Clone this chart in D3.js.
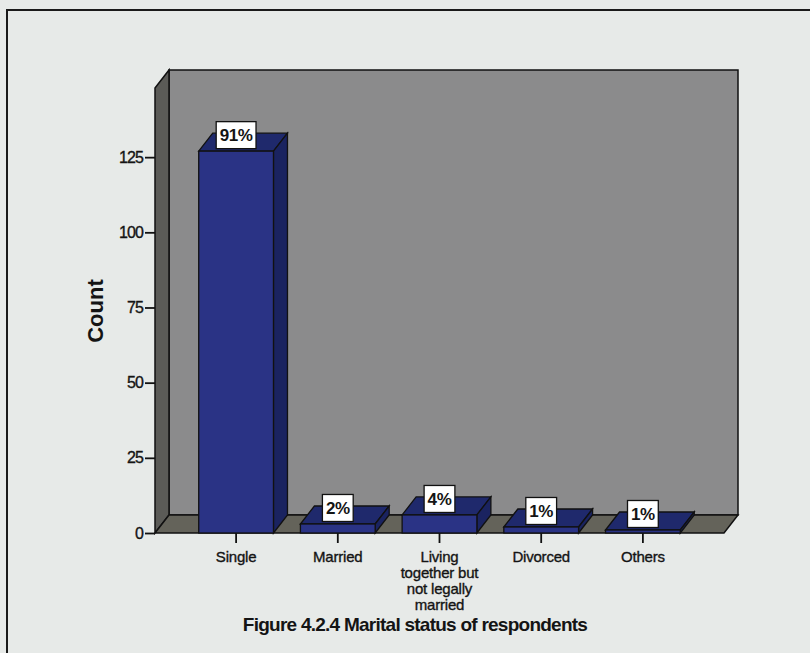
<!DOCTYPE html>
<html>
<head>
<meta charset="utf-8">
<script src="https://cdn.jsdelivr.net/npm/d3@7"></script>
<style>
  html, body { margin: 0; padding: 0; background: #e7eae8; }
  svg { display: block; font-family: "Liberation Sans", Arial, sans-serif; }
</style>
</head>
<body>
<svg id="chart" width="810" height="653"></svg>
<script>
// Marital status of respondents (counts)
const categories = ["Single", "Married", "Living together but not legally married", "Divorced", "Others"];
const categoryLines = [["Single"], ["Married"], ["Living", "together but", "not legally", "married"], ["Divorced"], ["Others"]];
const counts = [127, 3, 6, 2, 1];
const yTicks = [0, 25, 50, 75, 100, 125];
const titleText = "Figure 4.2.4 Marital status of respondents";
const yTitle = "Count";

const total = d3.sum(counts);
const pctLabel = v => Math.round(v / total * 100) + "%";

const svg = d3.select("#chart");

// 3-D frame geometry
const left = 155, right = 724, bottom = 533, dx = 14, dy = 18;
const y = d3.scaleLinear().domain([0, 148]).range([bottom, 88]);
const x = d3.scaleBand().domain(categories).range([left, right])
  .paddingInner(0.265).paddingOuter(0.43);

const col = {
  bg: "#e7eae8", back: "#8b8b8c", side: "#5b5b57", floor: "#64635a",
  front: "#2a3385", top: "#1f296c", right: "#1a2360", stroke: "#111", ink: "#141414"
};

// outer frame
svg.append("rect").attr("x", 7).attr("y", 10).attr("width", 820).attr("height", 700)
  .attr("fill", col.bg).attr("stroke", "#1a1a1a").attr("stroke-width", 2);

const yTop = y.range()[1];
const g = svg.append("g");

// back wall
g.append("polygon")
  .attr("points", [[left + dx, yTop - dy], [right + dx, yTop - dy], [right + dx, bottom - dy], [left + dx, bottom - dy]].join(" "))
  .attr("fill", col.back).attr("stroke", col.stroke).attr("stroke-width", 1.5);
// left wall
g.append("polygon")
  .attr("points", [[left, yTop], [left + dx, yTop - dy], [left + dx, bottom - dy], [left, bottom]].join(" "))
  .attr("fill", col.side).attr("stroke", col.stroke).attr("stroke-width", 1.5);
// floor
g.append("polygon")
  .attr("points", [[left, bottom], [left + dx, bottom - dy], [right + dx, bottom - dy], [right, bottom]].join(" "))
  .attr("fill", col.floor).attr("stroke", col.stroke).attr("stroke-width", 1.5);

// bars
const bars = g.selectAll("g.bar").data(categories.map((c, i) => ({ c, v: counts[i] })))
  .join("g").attr("class", "bar");
bars.each(function (d) {
  const b = d3.select(this);
  const x0 = x(d.c), x1 = x(d.c) + x.bandwidth(), yt = y(d.v), yb = y(0);
  b.append("polygon")
    .attr("points", [[x0, yt], [x0 + dx, yt - dy], [x1 + dx, yt - dy], [x1, yt]].join(" "))
    .attr("fill", col.top).attr("stroke", col.stroke).attr("stroke-width", 1.3);
  b.append("polygon")
    .attr("points", [[x1, yt], [x1 + dx, yt - dy], [x1 + dx, yb - dy], [x1, yb]].join(" "))
    .attr("fill", col.right).attr("stroke", col.stroke).attr("stroke-width", 1.3);
  b.append("rect").attr("x", x0).attr("y", yt).attr("width", x1 - x0).attr("height", yb - yt)
    .attr("fill", col.front).attr("stroke", col.stroke).attr("stroke-width", 1.3);
});

// value labels
bars.each(function (d) {
  const b = d3.select(this);
  const cx = x(d.c) + x.bandwidth() / 2, yb = y(d.v) - 2.5;
  const t = b.append("text").attr("x", cx).attr("y", yb - 7.5)
    .attr("text-anchor", "middle").attr("font-size", 17).attr("font-weight", "bold")
    .attr("letter-spacing", -0.4).attr("fill", col.ink).text(pctLabel(d.v));
  const w = t.node().getComputedTextLength() + 7;
  b.insert("rect", "text").attr("x", cx - w / 2).attr("y", yb - 27).attr("width", w).attr("height", 27)
    .attr("fill", "#fff").attr("stroke", col.stroke).attr("stroke-width", 1.3);
});

// y axis
const yAxis = d3.axisLeft(y).tickValues(yTicks).tickSize(10).tickPadding(2);
const ya = svg.append("g").attr("transform", `translate(${left},0)`).call(yAxis);
ya.select(".domain").remove();
ya.selectAll(".tick line").attr("stroke", "#111").attr("stroke-width", 1.8);
ya.selectAll(".tick text").attr("font-size", 16).attr("fill", col.ink)
  .attr("stroke", col.ink).attr("stroke-width", 0.35)
  .attr("font-family", "Liberation Sans, Arial, sans-serif").attr("letter-spacing", -0.9);

// x axis ticks and labels
const xa = svg.append("g");
categories.forEach((c, i) => {
  const cx = x(c) + x.bandwidth() / 2;
  xa.append("line").attr("x1", cx).attr("x2", cx).attr("y1", bottom).attr("y2", bottom + 10)
    .attr("stroke", "#111").attr("stroke-width", 1.8);
  categoryLines[i].forEach((ln, j) => {
    xa.append("text").attr("x", cx).attr("y", bottom + 29 + j * 16)
      .attr("text-anchor", "middle").attr("font-size", 15).attr("fill", col.ink)
      .attr("stroke", col.ink).attr("stroke-width", 0.35).attr("letter-spacing", -0.2)
      .text(ln);
  });
});

// axis title
svg.append("text").attr("transform", "translate(103,311) rotate(-90)")
  .attr("text-anchor", "middle").attr("font-size", 22).attr("font-weight", "bold")
  .attr("fill", col.ink).text(yTitle);

// figure title
svg.append("text").attr("x", 415).attr("y", 631).attr("text-anchor", "middle")
  .attr("font-size", 19).attr("font-weight", "bold").attr("letter-spacing", -0.75)
  .attr("fill", col.ink).text(titleText);
</script>
</body>
</html>
